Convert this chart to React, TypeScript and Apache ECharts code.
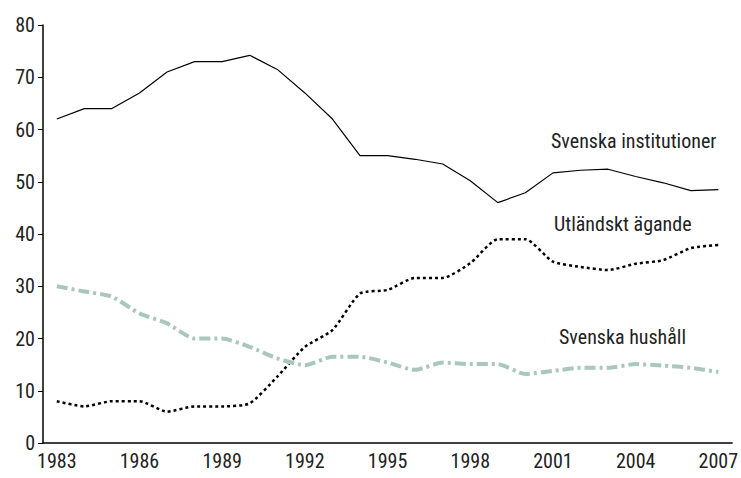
import React, { useEffect, useRef } from "react";
import * as echarts from "echarts";

const years = [
  "1983", "1984", "1985", "1986", "1987", "1988", "1989", "1990", "1991", "1992",
  "1993", "1994", "1995", "1996", "1997", "1998", "1999", "2000", "2001", "2002",
  "2003", "2004", "2005", "2006", "2007",
];

const svenskaInstitutioner = [
  62, 64, 64, 67, 71, 73, 73, 74.2, 71.5, 67, 62, 55, 55, 54.3, 53.4, 50.2, 46,
  47.9, 51.7, 52.2, 52.4, 51, 49.8, 48.3, 48.5,
];

const utlandsktAgande = [
  8, 7, 8, 8, 6, 7, 7, 7.6, 12.7, 18.4, 21.6, 28.6, 29.3, 31.6, 31.6, 34.4, 39,
  39, 34.7, 33.7, 33.1, 34.3, 35, 37.3, 37.9,
];

const svenskaHushall = [
  30, 29, 28, 24.8, 22.9, 20, 20, 18.4, 16.2, 14.9, 16.5, 16.5, 15.4, 14, 15.4,
  15.1, 15.1, 13.2, 13.8, 14.4, 14.4, 15.1, 14.8, 14.4, 13.6,
];

const FONT = "'Roboto Condensed', 'Liberation Sans Narrow', sans-serif";

export default function App() {
  const ref = useRef<HTMLDivElement>(null);
  useEffect(() => {
    document.body.style.margin = "0";
    if (!ref.current) return;
    const chart = echarts.init(ref.current, undefined, { renderer: "svg" });
    chart.setOption({
      animation: false,
      backgroundColor: "#ffffff",
      grid: { left: 43, right: 4, top: 25, bottom: 35, containLabel: false },
      xAxis: {
        type: "category",
        data: years,
        boundaryGap: true,
        axisLine: { lineStyle: { color: "#000", width: 1.5 } },
        axisTick: { interval: 0, length: 5, lineStyle: { color: "#000", width: 1 } },
        axisLabel: {
          interval: 2,
          color: "#222",
          fontFamily: FONT,
          fontSize: 20,
          margin: 8,
        },
        splitLine: { show: false },
      },
      yAxis: {
        type: "value",
        min: 0,
        max: 80,
        interval: 10,
        axisLine: { show: true, lineStyle: { color: "#000", width: 1.5 } },
        axisTick: { show: true, length: 5, lineStyle: { color: "#000", width: 1 } },
        axisLabel: { color: "#222", fontFamily: FONT, fontSize: 20, margin: 8 },
        splitLine: { show: false },
      },
      series: [
        {
          name: "Svenska institutioner",
          type: "line",
          data: svenskaInstitutioner,
          showSymbol: false,
          lineStyle: { color: "#000", width: 1.2 },
        },
        {
          name: "Utländskt ägande",
          type: "line",
          data: utlandsktAgande,
          showSymbol: false,
          smooth: 0.2,
          lineStyle: { color: "#000", width: 2.5, type: [3, 3] },
        },
        {
          name: "Svenska hushåll",
          type: "line",
          data: svenskaHushall,
          showSymbol: false,
          smooth: 0.2,
          lineStyle: { color: "#a9c7bb", width: 4, type: [11, 4, 3, 4] },
        },
      ],
      graphic: [
        {
          type: "text",
          left: 551,
          top: 131,
          style: { text: "Svenska institutioner", font: `20px ${FONT}`, fill: "#222" },
        },
        {
          type: "text",
          left: 554,
          top: 214,
          style: { text: "Utländskt ägande", font: `20px ${FONT}`, fill: "#222" },
        },
        {
          type: "text",
          left: 559,
          top: 327,
          style: { text: "Svenska hushåll", font: `20px ${FONT}`, fill: "#222" },
        },
      ],
    });
    return () => chart.dispose();
  }, []);
  return <div ref={ref} style={{ width: 741, height: 478 }} />;
}
